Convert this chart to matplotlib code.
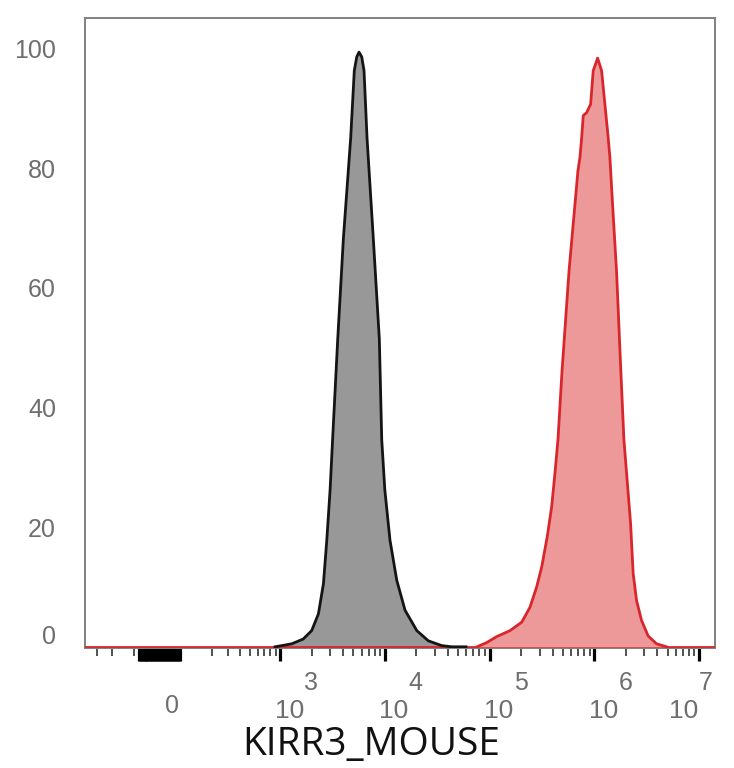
import numpy as np
import matplotlib
matplotlib.use("Agg")
import matplotlib.pyplot as plt
from matplotlib.transforms import offset_copy

# histogram outlines (intensity, % of max)
gray_x = [890, 1290, 1660, 2000, 2320, 2590, 2790, 3000, 3170, 3550, 4020, 4720, 5110, 5390,
          5670, 6020, 6330, 6760, 7760, 8860, 9340, 10000, 11200, 13000, 15600, 20200, 26000,
          34900, 43500, 59500]
gray_y = [0, 0.5, 1.3, 2.7, 5.5, 10.5, 17.8, 26.2, 34.6, 51.4, 68.2, 85.0, 96.2, 98.5,
          99.3, 98.5, 96.2, 85.0, 68.2, 51.4, 34.6, 26.2, 17.8, 11.1, 6.1, 2.7, 1.0,
          0.2, 0, 0]

red_x = [75900, 93800, 116900, 156600, 202500, 243000, 281500, 314200, 355400, 391500,
         420900, 449700, 491000, 573000, 697600, 728800, 756700, 783700, 844300, 921800,
         975800, 1074800, 1173000, 1261500, 1356600, 1407900, 1494000, 1630600, 1792500,
         1915500, 2031800, 2218500, 2349000, 2532000, 2824000, 3267000, 3928000, 4894000]
red_y = [0, 0.7, 1.7, 2.7, 4.1, 6.6, 10.0, 13.3, 18.4, 23.4,
         29.0, 34.6, 45.9, 62.7, 79.5, 81.7, 85.0, 88.7, 89.2, 90.6,
         96.2, 98.3, 96.2, 90.6, 85.0, 81.7, 73.8, 62.6, 45.9,
         34.6, 29.0, 20.6, 12.2, 7.7, 4.4, 1.8, 0.5, 0]

y_ticks = [0, 20, 40, 60, 80, 100]
decades = [3, 4, 5, 6, 7]
xlabel = "KIRR3_MOUSE"

# biexponential-like axis
W = 150.0
def fwd(v):
    return np.arcsinh(np.asarray(v, dtype=float) / W)
def inv(u):
    return W * np.sinh(np.asarray(u, dtype=float))

gray_fill = "#989898"
red_fill = "#ee9999"
red_line = "#d8262c"
lab_col = "#6e6e6e"

fig = plt.figure(figsize=(7.34, 7.68), dpi=100)
ax = fig.add_axes([85/734, 1-648/768, 630/734, 630/768])
ax.set_xscale("function", functions=(fwd, inv))
ax.set_xlim(-396, 1.419e7)
ax.set_ylim(-0.2, 105)

ax.fill_between(gray_x, gray_y, 0, color=gray_fill, lw=0, zorder=2)
ax.axhline(0, color=red_line, lw=1.3, zorder=3)
ax.plot(gray_x, gray_y, color="#141414", lw=2.0, zorder=4)
ax.fill_between(red_x, red_y, 0, color=red_fill, lw=0, zorder=5)
ax.plot(red_x, red_y, color=red_line, lw=2.0, zorder=6)

for s in ax.spines.values():
    s.set_color("#808080")
    s.set_linewidth(1.4)

# ticks: dense block in the linear zone around 0 plus the decades
lin_zone = list(range(-80, 65, 5))
major = lin_zone + [10**d for d in decades]
minor = [-300, -200, -100]
for d in range(2, 7):
    minor += [m * 10**d for m in range(2, 10)]
ax.set_xticks(major)
ax.set_xticks(minor, minor=True)
ax.set_xticklabels([])
ax.set_xticklabels([], minor=True)
ax.tick_params(axis="x", which="major", length=9.5, width=2.3, color="#000000", direction="out")
ax.tick_params(axis="x", which="minor", length=5.5, width=1.1, color="#222222", direction="out")
ax.set_yticks([])

# y labels
for v in y_ticks:
    dy = 10 if v == 0 else -3
    tr = offset_copy(ax.get_yaxis_transform(), fig=fig, x=-29, y=dy, units="dots")
    ax.text(0, v, str(v), transform=tr, ha="right", va="center", fontsize=18,
            color=lab_col, family="Liberation Sans")

# x labels: 0 and 10^n
tr0 = offset_copy(ax.get_xaxis_transform(), fig=fig, x=10, y=-58, units="dots")
ax.text(0, 0, "0", transform=tr0, ha="center", va="center", fontsize=18,
        color=lab_col, family="Liberation Sans")
for d in decades:
    sh = -24 if d == 7 else 0
    trb = offset_copy(ax.get_xaxis_transform(), fig=fig, x=9 + sh, y=-63, units="dots")
    tre = offset_copy(ax.get_xaxis_transform(), fig=fig, x=31 + sh, y=-35, units="dots")
    ax.text(10**d, 0, "10", transform=trb, ha="center", va="center", fontsize=19,
            color=lab_col, family="Liberation Sans")
    ax.text(10**d, 0, str(d), transform=tre, ha="center", va="center", fontsize=18,
            color=lab_col, family="Liberation Sans")

fig.text(371/734, 1-745/768, xlabel, ha="center", va="center", fontsize=28,
         color="#111111", family="Open Sans")

fig.savefig("out.png", dpi=100)
